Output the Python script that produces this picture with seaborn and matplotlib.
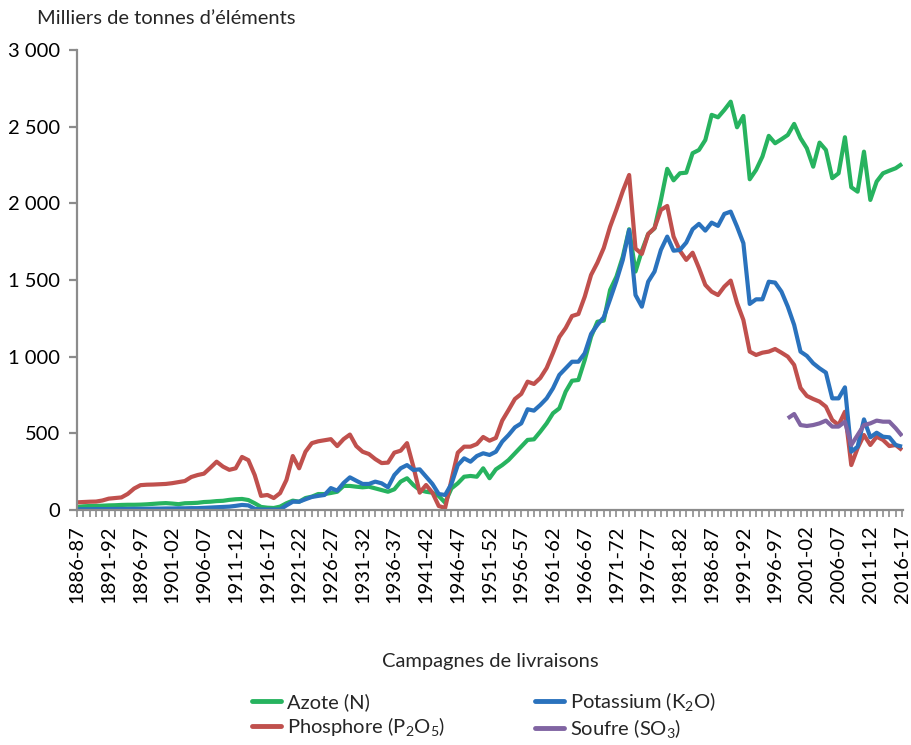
import numpy as np
import pandas as pd
import matplotlib
matplotlib.use("Agg")
import matplotlib.pyplot as plt
import seaborn as sns
from matplotlib.lines import Line2D

# ---------------- data (milliers de tonnes) ----------------
start_year = 1886
azote = [20, 24, 26, 27, 28, 30, 31, 33, 34, 34, 35, 37, 40, 43, 45, 42, 38, 44, 45, 47,
         52, 54, 58, 60, 66, 70, 72, 65, 44, 20, 15, 13, 22, 44, 61, 54, 78, 87, 104, 104,
         111, 119, 157, 157, 152, 148, 152, 141, 130, 119, 135, 185, 207, 163, 130, 119, 113, 91, 48, 141,
         174, 217, 222, 217, 272, 207, 265, 293, 326, 370, 413, 457, 461, 511, 565, 631, 663, 772, 843, 848,
         978, 1130, 1228, 1235, 1435, 1522, 1652, 1831, 1555, 1690, 1800, 1837, 2020, 2225, 2150, 2196, 2200, 2327, 2348, 2413,
         2577, 2561, 2609, 2663, 2496, 2570, 2157, 2218, 2305, 2440, 2392, 2418, 2446, 2518, 2425, 2359, 2239, 2396, 2348, 2164,
         2196, 2431, 2105, 2076, 2337, 2022, 2142, 2196, 2213, 2229, 2257]
phosphore = [50, 52, 54, 55, 62, 74, 78, 82, 105, 140, 162, 165, 166, 168, 170, 175, 182, 189, 215, 228,
             237, 275, 315, 283, 262, 272, 346, 325, 228, 92, 98, 78, 110, 196, 352, 272, 380, 436, 448, 455,
             462, 417, 462, 492, 417, 380, 365, 332, 306, 309, 374, 387, 436, 283, 113, 163, 113, 26, 13, 196,
             374, 413, 413, 430, 476, 452, 470, 583, 652, 724, 757, 837, 822, 861, 926, 1024, 1128, 1187, 1265, 1278,
             1391, 1533, 1613, 1709, 1848, 1960, 2080, 2185, 1705, 1670, 1800, 1839, 1957, 1983, 1783, 1691, 1631, 1678, 1578, 1468,
             1424, 1402, 1457, 1496, 1350, 1239, 1033, 1011, 1026, 1033, 1050, 1026, 1000, 946, 796, 744, 724, 707, 674, 587,
             554, 641, 293, 404, 489, 424, 478, 457, 417, 424, 391]
potassium = [5, 5, 5, 6, 6, 6, 7, 7, 7, 8, 8, 8, 9, 9, 10, 10, 11, 11, 12, 12,
             14, 16, 18, 20, 22, 27, 33, 30, 8, 3, 3, 3, 3, 30, 54, 54, 70, 85, 92, 98,
             143, 126, 176, 213, 191, 170, 170, 185, 174, 148, 228, 272, 293, 261, 265, 217, 170, 104, 98, 170,
             293, 337, 315, 352, 370, 359, 380, 446, 489, 539, 565, 657, 648, 685, 728, 794, 881, 924, 967, 967,
             1022, 1148, 1207, 1257, 1374, 1495, 1631, 1826, 1402, 1326, 1489, 1555, 1696, 1783, 1691, 1696, 1744, 1831, 1866, 1822,
             1874, 1853, 1931, 1946, 1848, 1740, 1344, 1374, 1374, 1489, 1483, 1424, 1326, 1207, 1033, 1005, 957, 924, 896, 728,
             728, 800, 380, 413, 591, 474, 504, 478, 474, 424, 413]
soufre_start = 1998
soufre = [598, 626, 554, 548, 554, 565, 583, 544, 544, 576, 424, 489, 554, 565, 583, 576, 576, 533, 483]

labels = ["Azote (N)", "Phosphore (P$_2$O$_5$)", "Potassium (K$_2$O)", "Soufre (SO$_3$)"]
colors = ["#27b35f", "#c0504d", "#2a72bd", "#8064a2"]

years = list(range(start_year, start_year + len(azote)))
rows = []
for lab, vals, y0 in [(labels[0], azote, start_year), (labels[1], phosphore, start_year),
                      (labels[2], potassium, start_year), (labels[3], soufre, soufre_start)]:
    for k, v in enumerate(vals):
        rows.append({"annee": y0 + k, "valeur": v, "serie": lab})
df = pd.DataFrame(rows)

# ---------------- style ----------------
sns.set_style("white")
plt.rcParams["font.family"] = ["Lato", "DejaVu Sans"]
plt.rcParams["mathtext.fontset"] = "custom"
plt.rcParams["mathtext.rm"] = "Lato"
plt.rcParams["mathtext.it"] = "Lato"
plt.rcParams["mathtext.default"] = "regular"

fig = plt.figure(figsize=(9.11, 7.45), dpi=100)
ax = fig.add_axes([77 / 911, 1 - 510 / 745, (903 - 77) / 911, (510 - 50) / 745])

sns.lineplot(data=df, x="annee", y="valeur", hue="serie", hue_order=labels,
             palette=colors, linewidth=3.0, ax=ax, legend=False, estimator=None,
             solid_capstyle="butt")

ax.set_xlim(1886, 2016.15)
ax.set_ylim(0, 3000)

# y axis
ax.set_yticks(np.arange(0, 3001, 500))
ax.set_yticklabels([f"{v:,}".replace(",", " ") for v in range(0, 3001, 500)], fontsize=14.5)
# x axis
major = list(range(1886, 2017, 5))
ax.set_xticks(major)
ax.set_xticklabels([f"{y}-{str(y + 1)[-2:]}" for y in major], rotation=90, fontsize=14.5)
ax.set_xticks(years, minor=True)

gray = "#8c8c8c"
for s in ["top", "right"]:
    ax.spines[s].set_visible(False)
for s in ["left", "bottom"]:
    ax.spines[s].set_color(gray)
    ax.spines[s].set_linewidth(1.6)
ax.tick_params(axis="y", which="major", direction="out", length=6, width=1.6, color=gray,
               pad=6, labelcolor="black", left=True)
ax.tick_params(axis="x", which="both", direction="out", length=5, width=1.2, color=gray,
               pad=6, labelcolor="black", bottom=True)
ax.grid(False)

ax.set_xlabel("Campagnes de livraisons", fontsize=14.5, labelpad=36)
ax.set_ylabel("")
fig.text(37 / 911, 1 - 18 / 745, "Milliers de tonnes d\u2019\u00e9l\u00e9ments", fontsize=14.5,
         ha="left", va="center")

handles = [Line2D([0], [0], color=c, lw=3.5) for c in colors]
fig.legend(handles, labels, ncol=2, loc="upper center", bbox_to_anchor=(484 / 911, 1 - 676 / 745),
           frameon=False, fontsize=14.5, handlelength=1.4, handletextpad=0.3,
           columnspacing=4.5, labelspacing=0.2, borderpad=0.2)

fig.savefig("out.png", dpi=100)
